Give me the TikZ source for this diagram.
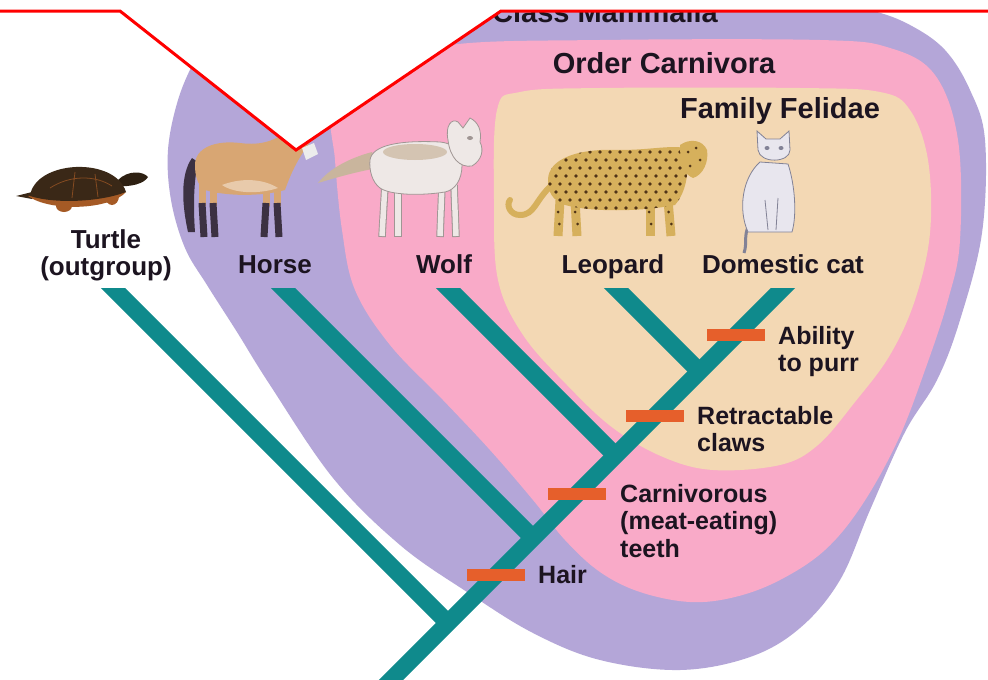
\documentclass[tikz,border=0pt]{standalone}
\usepackage{fontspec}
\setmainfont{Liberation Sans}
\definecolor{mammalc}{RGB}{180,166,216}
\definecolor{carnic}{RGB}{249,170,200}
\definecolor{felidc}{RGB}{243,216,180}
\definecolor{tealc}{RGB}{15,138,140}
\definecolor{orangec}{RGB}{230,95,43}
\definecolor{inkc}{RGB}{28,20,32}
\definecolor{shellc}{RGB}{58,40,23}
\definecolor{rimc}{RGB}{165,90,37}
\definecolor{horsebody}{RGB}{216,166,115}
\definecolor{horsedark}{RGB}{60,49,66}
\definecolor{wolfbody}{RGB}{238,232,230}
\definecolor{wolfback}{RGB}{201,181,157}
\definecolor{wolfline}{RGB}{160,150,148}
\definecolor{leobody}{RGB}{214,176,92}
\definecolor{leospot}{RGB}{80,52,24}
\definecolor{catbody}{RGB}{232,230,238}
\definecolor{catline}{RGB}{130,130,150}
\begin{document}
\begin{tikzpicture}[x=1pt,y=-1pt,
  lbl/.style={inner sep=0pt, text=inkc, font=\bfseries\fontsize{26}{27.5}\selectfont},
  traitlbl/.style={inner sep=0pt, text=inkc, align=left, font=\bfseries\fontsize{25}{27.5}\selectfont},
  hdr/.style={inner sep=0pt, text=inkc, font=\bfseries\fontsize{29}{31}\selectfont},
  branch/.style={draw=tealc, line width=17pt},
  traitbar/.style={fill=orangec, minimum width=58pt, minimum height=12pt, inner sep=0pt}]
\useasboundingbox (0,0) rectangle (988,680);
\fill[white] (0,0) rectangle (988,680);

% nested groups: Class Mammalia, Order Carnivora, Family Felidae
\fill[mammalc] plot[smooth cycle, tension=0.6] coordinates {
  (195,60) (178,100) (168,150) (171,200) (185,248) (207,285) (237,332)
  (270,385) (333,478) (400,545) (467,592) (533,633) (600,660) (680,670)
  (750,657) (800,628) (840,580) (870,510) (905,432) (937,380) (960,320)
  (982,233) (985,140) (970,90) (945,50) (910,25) (870,10) (800,-5)
  (700,-15) (450,-15) (260,0) (215,30)};
\fill[carnic] plot[smooth cycle, tension=0.6] coordinates {
  (333,110) (335,160) (342,230) (355,290) (390,345) (443,400) (490,450)
  (533,500) (565,540) (600,572) (640,592) (690,602) (735,597) (780,580)
  (825,550) (862,505) (898,440) (925,370) (948,300) (960,240) (958,140)
  (935,75) (890,48) (820,40) (600,40) (450,45) (370,70)};
\fill[felidc] plot[smooth cycle, tension=0.6] coordinates {
  (497,110) (494,200) (498,280) (523,335) (567,385) (613,428) (663,457)
  (713,470) (780,465) (818,445) (855,402) (890,355) (915,300) (930,233)
  (928,160) (910,110) (880,92) (800,88) (600,88) (520,92)};

% tree
\coordinate (root) at (371,700);
\coordinate (top-cat) at (795,276);
\coordinate (top-leopard) at (604,276);
\coordinate (top-wolf) at (436,276);
\coordinate (top-horse) at (271,276);
\coordinate (top-turtle) at (101,276);
\coordinate (j-turtle) at (448,623);
\coordinate (j-horse) at (533,538);
\coordinate (j-wolf) at (615.5,455.5);
\coordinate (j-leopard) at (699.5,371.5);
\begin{scope}
  \clip (0,288) rectangle (988,690);
  \draw[branch] (root) -- (top-cat);
  \draw[branch] (top-turtle) -- (j-turtle);
  \draw[branch] (top-horse) -- (j-horse);
  \draw[branch] (top-wolf) -- (j-wolf);
  \draw[branch] (top-leopard) -- (j-leopard);
\end{scope}

% derived characters
\node[traitbar] (bar-purr) at (736,335) {};
\node[traitbar] (bar-claws) at (655,416) {};
\node[traitbar] (bar-teeth) at (577,494) {};
\node[traitbar] (bar-hair) at (496,575) {};

\node[traitlbl, anchor=north west] (t-purr) at (778,326) {Ability\\to purr};
\node[traitlbl, anchor=north west] (t-claws) at (697,406) {Retractable\\claws};
\node[traitlbl, anchor=north west] (t-teeth) at (620,484) {Carnivorous\\(meat-eating)\\teeth};
\node[traitlbl, anchor=base west] (t-hair) at (538,583) {Hair};

% turtle
\fill[shellc] (32,192) -- (16,196) -- (32,199) -- cycle;
\fill[rimc] (112,196) ellipse [x radius=7, y radius=9];
\fill[rimc] (64,206) ellipse [x radius=8, y radius=6];
\fill[shellc!80!black] (118,180) .. controls (128,170) and (143,171) .. (148,177)
  .. controls (144,184) and (130,187) .. (118,186) -- cycle;
\fill[rimc] (28,196) .. controls (50,212) and (110,210) .. (126,192) -- cycle;
\fill[shellc] (30,196) .. controls (35,160) and (115,156) .. (126,192)
  .. controls (100,202) and (55,204) .. (30,196) -- cycle;
\draw[rimc!70!shellc, line width=0.8pt] (50,188) .. controls (70,175) and (95,175) .. (112,186)
  (75,172) -- (72,198) (95,174) -- (98,197);

% horse
\fill[horsedark] (192,158) .. controls (180,175) and (182,205) .. (188,232)
  -- (195,232) .. controls (193,205) and (194,180) .. (198,162) -- cycle;
\foreach \a/\b in {202/204, 213/215, 266/264, 277/279}{
  \draw[line width=7pt, horsebody] (\a,180) -- (\a,206);
  \draw[line width=7pt, horsedark] (\a,203) -- (\b,237);}
\fill[horsebody] (195,165) .. controls (195,148) and (215,140) .. (240,143)
  .. controls (262,146) and (278,140) .. (290,128) -- (312,140)
  .. controls (300,155) and (292,170) .. (285,190)
  .. controls (260,197) and (225,196) .. (205,190)
  .. controls (197,185) and (195,175) .. (195,165) -- cycle;
\fill[horsebody!60!white] (222,185) .. controls (240,178) and (262,178) .. (278,188)
  .. controls (260,194) and (235,194) .. (222,185) -- cycle;
\fill[white!85!gray] (302,148) -- (314,143) -- (318,154) -- (306,160) -- cycle;

% wolf
\fill[wolfback] (372,152) .. controls (350,158) and (330,168) .. (318,183)
  .. controls (335,178) and (355,172) .. (378,168) -- cycle;
\foreach \x/\d in {385/-3, 398/0, 442/-2, 454/2}{
  \draw[line width=7.5pt, wolfline] (\x,185) -- (\x+\d,237);
  \draw[line width=5.5pt, wolfbody] (\x,184) -- (\x+\d,236);}
\filldraw[fill=wolfbody, draw=wolfline, line width=0.8pt]
  (370,160) .. controls (372,145) and (400,140) .. (440,142)
  .. controls (452,143) and (462,150) .. (462,165)
  .. controls (462,180) and (455,190) .. (445,192)
  .. controls (420,196) and (390,195) .. (380,188)
  .. controls (372,182) and (369,170) .. (370,160) -- cycle;
\fill[wolfback, opacity=0.7] (415,152) ellipse [x radius=32, y radius=8];
\filldraw[fill=wolfbody, draw=wolfline, line width=0.8pt]
  (448,140) .. controls (445,125) and (452,118) .. (458,122) -- (463,128) -- (470,118)
  .. controls (478,122) and (482,130) .. (480,142)
  .. controls (484,150) and (482,160) .. (472,166)
  .. controls (460,168) and (450,158) .. (448,140) -- cycle;
\fill[wolfline] (470,138) ellipse [x radius=3, y radius=2];

% leopard
\draw[leobody, line width=6pt, line cap=round] (552,185) .. controls (535,200) and (535,215) .. (520,215)
  .. controls (510,215) and (506,205) .. (510,200);
\foreach \x/\d in {560/-2, 575/2, 650/0, 668/3}{
  \draw[leobody, line width=9pt] (\x,200) -- (\x+\d,236);
  \fill[leospot] (\x+\d*0.5-1,212) circle [radius=1.5];
  \fill[leospot] (\x+\d*0.8+1,224) circle [radius=1.5];}
\begin{scope}
  \path[clip] (548,180) .. controls (548,158) and (580,148) .. (620,150)
    .. controls (650,150) and (670,145) .. (685,148)
    .. controls (690,165) and (688,190) .. (675,205)
    .. controls (640,212) and (590,212) .. (565,205)
    .. controls (552,200) and (548,192) .. (548,180) -- cycle;
  \fill[leobody] (540,140) rectangle (700,215);
  \foreach \y in {152,160,...,208}{
    \foreach \x in {546,556,...,690}{
      \fill[leospot] ({\x+mod(\y,16)/2},\y) circle [radius=1.8];}}
\end{scope}
\fill[leobody] (680,145) .. controls (690,138) and (703,140) .. (707,150)
  .. controls (709,162) and (703,175) .. (693,178)
  .. controls (685,175) and (680,165) .. (680,145) -- cycle;
\foreach \p in {(688,152),(696,148),(700,160),(690,166)}
  \fill[leospot] \p circle [radius=1.5];

% domestic cat
\draw[catline, line width=3pt] (752,222) .. controls (742,232) and (748,242) .. (744,253);
\filldraw[fill=catbody, draw=catline, line width=0.8pt]
  (748,232) .. controls (738,210) and (742,178) .. (760,162) -- (788,164)
  .. controls (795,185) and (797,215) .. (792,232) -- cycle;
\draw[catline, line width=0.8pt] (765,200) -- (768,230) (778,198) -- (776,230);
\filldraw[fill=catbody, draw=catline, line width=0.8pt]
  (758,150) -- (757,131) -- (766,139) -- (780,139) -- (789,131) -- (790,150)
  .. controls (790,163) and (760,164) .. (758,150) -- cycle;
\fill[catline] (767,148) ellipse [x radius=2.5, y radius=2]
  (781,148) ellipse [x radius=2.5, y radius=2];

% taxon names
\node[lbl, anchor=north, align=center] (n-turtle) at (106,229) {Turtle\\(outgroup)};
\node[lbl, anchor=base] (n-horse) at (275,273) {Horse};
\node[lbl, anchor=base] (n-wolf) at (444,273) {Wolf};
\node[lbl, anchor=base] (n-leopard) at (613,273) {Leopard};
\node[lbl, anchor=base] (n-cat) at (783,273) {Domestic cat};

% group names
\node[hdr, anchor=base] (g-class) at (605,22) {Class Mammalia};
\node[hdr, anchor=base] (g-order) at (664,73) {Order Carnivora};
\node[hdr, anchor=base] (g-family) at (780,118) {Family Felidae};

% top frame
\fill[white] (-5,-5) -- (-5,11) -- (120,11) -- (296,150) -- (501,11) -- (993,11) -- (993,-5) -- cycle;
\draw[red, line width=3pt] (0,11) -- (120,11) -- (296,150) -- (501,11) -- (988,11);
\end{tikzpicture}
\end{document}
